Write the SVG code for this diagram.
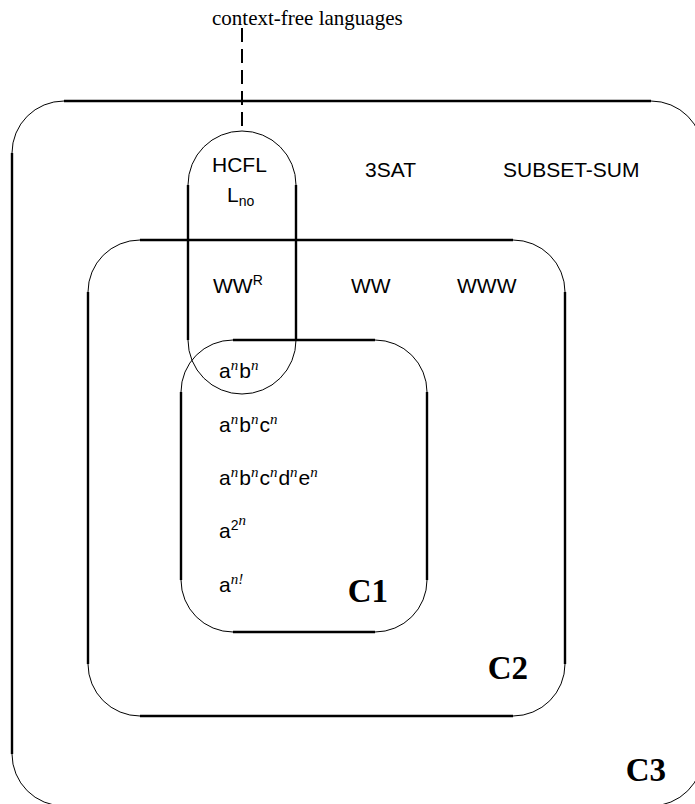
<svg xmlns="http://www.w3.org/2000/svg" width="695" height="804" viewBox="0 0 695 804">
<style>
.ln{stroke:#000;stroke-width:2.4;fill:none}
.arc{stroke:#000;stroke-width:1;fill:none}
.t{font-family:"Liberation Sans",Arial,sans-serif;font-size:21px;fill:#000}
.sup{font-family:"Liberation Serif","Times New Roman",serif;font-style:italic;font-size:15px}
.sups{font-size:14px}
.lab{font-family:"Liberation Serif","Times New Roman",serif;font-weight:bold;font-size:33px;fill:#000;text-anchor:end}
.cap{font-family:"Liberation Serif","Times New Roman",serif;font-size:21px;fill:#000}
</style>
<rect width="695" height="804" fill="#fff"/>
<g id="C3">
<path class="ln" d="M64,101H651M12,153V754M64,806H651M703,153V754"/>
<path class="arc" d="M12,153A52,52 0 0 1 64,101M651,101A52,52 0 0 1 703,153M703,754A52,52 0 0 1 651,806M64,806A52,52 0 0 1 12,754"/>
<text class="lab" x="666" y="781">C3</text>
</g>
<g id="C2">
<path class="ln" d="M140,240H513M88,292V664M140,716H513M565,292V664"/>
<path class="arc" d="M88,292A52,52 0 0 1 140,240M513,240A52,52 0 0 1 565,292M565,664A52,52 0 0 1 513,716M140,716A52,52 0 0 1 88,664"/>
<text class="lab" x="528" y="679">C2</text>
</g>
<g id="C1">
<path class="ln" d="M233,340H375M181,392V580M233,632H375M427,392V580"/>
<path class="arc" d="M181,392A52,52 0 0 1 233,340M375,340A52,52 0 0 1 427,392M427,580A52,52 0 0 1 375,632M233,632A52,52 0 0 1 181,580"/>
<text class="lab" x="388" y="602">C1</text>
</g>
<g id="CFL">
<path class="ln" d="M188,185V340M296,185V340"/>
<path class="arc" d="M188,185A54,54 0 0 1 296,185M296,340A54,54 0 0 1 188,340"/>
</g>
<g id="connectors">
<path d="M242,28V131" stroke="#000" stroke-width="2" stroke-dasharray="14 7" fill="none"/>
</g>
<g id="label-cfl"><text class="cap" x="212" y="25">context-free languages</text></g>
<g id="lang-hcfl"><text class="t" x="212" y="172">HCFL</text></g>
<g id="lang-lno"><text class="t" x="227" y="202">L<tspan class="sups" dy="4">no</tspan></text></g>
<g id="lang-3sat"><text class="t" x="365" y="177">3SAT</text></g>
<g id="lang-subsetsum"><text class="t" x="503" y="177">SUBSET-SUM</text></g>
<g id="lang-wwr"><text class="t" x="213" y="293">WW<tspan class="sups" dy="-8">R</tspan></text></g>
<g id="lang-ww"><text class="t" x="351" y="293">WW</text></g>
<g id="lang-www"><text class="t" x="457" y="293">WWW</text></g>
<g id="lang-anbn"><text class="t" x="219" y="378">a<tspan class="sup" dy="-8">n</tspan><tspan dx="1" dy="8">b</tspan><tspan class="sup" dy="-8">n</tspan></text></g>
<g id="lang-anbncn"><text class="t" x="219" y="432">a<tspan class="sup" dy="-8">n</tspan><tspan dx="1" dy="8">b</tspan><tspan class="sup" dy="-8">n</tspan><tspan dx="1" dy="8">c</tspan><tspan class="sup" dy="-8">n</tspan></text></g>
<g id="lang-anbncndnen"><text class="t" x="219" y="485">a<tspan class="sup" dy="-8">n</tspan><tspan dx="1" dy="8">b</tspan><tspan class="sup" dy="-8">n</tspan><tspan dx="1" dy="8">c</tspan><tspan class="sup" dy="-8">n</tspan><tspan dx="1" dy="8">d</tspan><tspan class="sup" dy="-8">n</tspan><tspan dx="1" dy="8">e</tspan><tspan class="sup" dy="-8">n</tspan></text></g>
<g id="lang-a2n"><text class="t" x="219" y="538">a<tspan class="sups" dy="-8">2</tspan><tspan class="sup" font-size="10" dy="-5">n</tspan></text></g>
<g id="lang-anfact"><text class="t" x="219" y="592">a<tspan class="sup" dy="-8">n!</tspan></text></g>
</svg>
